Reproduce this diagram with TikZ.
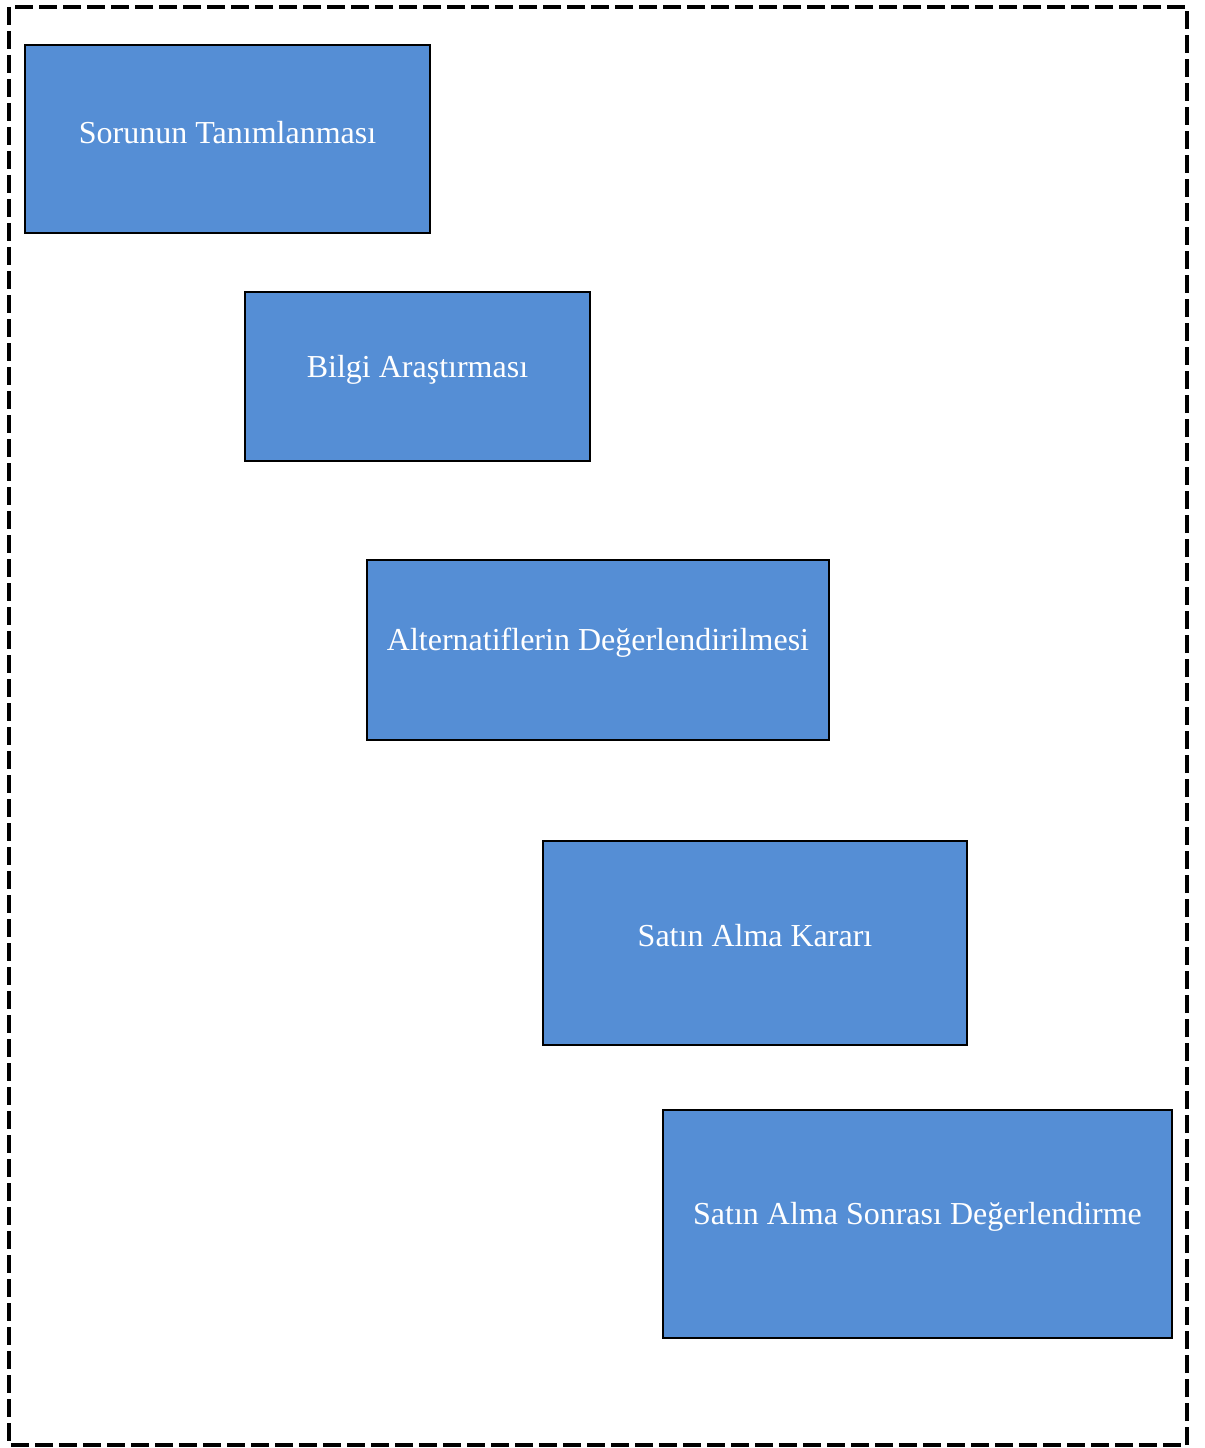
\documentclass[tikz,border=0pt]{standalone}
\usepackage{fontspec}
\setmainfont{Liberation Serif}
\definecolor{boxblue}{HTML}{558ED5}
\begin{document}
\begin{tikzpicture}[x=0.75pt,y=-0.75pt,
  box/.style={draw=black,line width=1.5pt,fill=boxblue,inner sep=0pt},
  lbl/.style={text=white,font=\fontsize{24pt}{27pt}\selectfont,inner sep=0pt}]
\useasboundingbox (0,0) rectangle (1205,1448);
\draw[line width=3.4pt,dash pattern=on 13.5pt off 4.5pt] (9,7) rectangle (1187,1445);
\node[box,minimum width=405*0.75pt,minimum height=188*0.75pt] (b1) at (227.5,139) {};
\node[lbl] (t1) at (227.5,133) {Sorunun Tanımlanması};
\node[box,minimum width=345*0.75pt,minimum height=169*0.75pt] (b2) at (417.5,376.5) {};
\node[lbl] (t2) at (417.5,370) {Bilgi Araştırması};
\node[box,minimum width=462*0.75pt,minimum height=180*0.75pt] (b3) at (598,650) {};
\node[lbl] (t3) at (598,643) {Alternatiflerin Değerlendirilmesi};
\node[box,minimum width=424*0.75pt,minimum height=204*0.75pt] (b4) at (755,943) {};
\node[lbl] (t4) at (755,936) {Satın Alma Kararı};
\node[box,minimum width=509*0.75pt,minimum height=228*0.75pt] (b5) at (917.5,1224) {};
\node[lbl] (t5) at (917.5,1217) {Satın Alma Sonrası Değerlendirme};
\end{tikzpicture}
\end{document}
